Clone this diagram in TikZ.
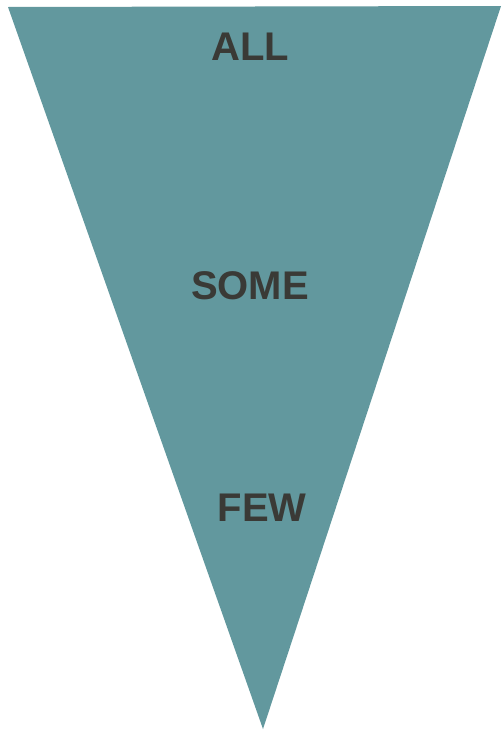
\documentclass[tikz,border=0pt]{standalone}
\usepackage{fontspec}
\setmainfont{Liberation Sans}
\definecolor{tealfill}{RGB}{98,152,158}
\definecolor{txt}{RGB}{58,58,54}
\tikzset{lbl/.style={font=\fontsize{40}{40}\selectfont\bfseries, text=txt, inner sep=0pt, anchor=center}}
\begin{document}
\begin{tikzpicture}[x=1pt,y=-1pt]
\useasboundingbox[fill=white] (0,0) rectangle (503,731);
\coordinate (tl) at (8,7);
\coordinate (tr) at (501,6);
\coordinate (bt) at (263,729);
\fill[tealfill] (tl) -- (tr) -- (bt) -- cycle;
\node[lbl] (all) at (250,47) {ALL};
\node[lbl] (some) at (250,286) {SOME};
\node[lbl] (few) at (262,508) {FEW};
\end{tikzpicture}
\end{document}
